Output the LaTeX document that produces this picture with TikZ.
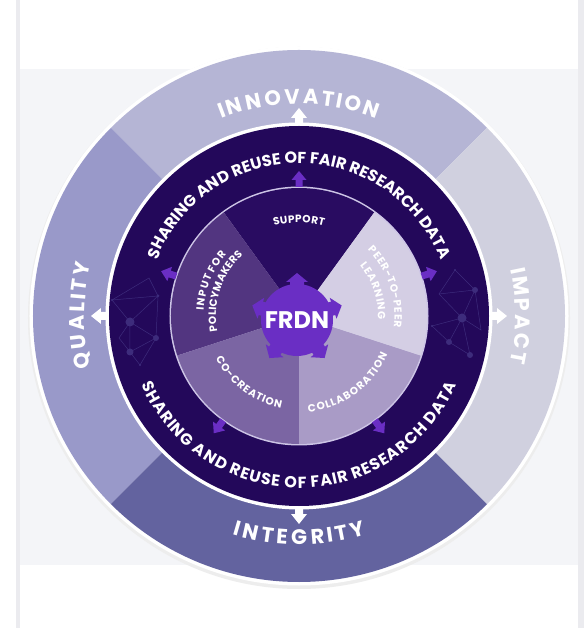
\documentclass[tikz,border=0pt]{standalone}
\usepackage{fontspec}
\setmainfont{Poppins}
\usetikzlibrary{decorations.text}

\definecolor{bandgray}{HTML}{F4F5F8}
\definecolor{stripgray}{HTML}{EBEBEF}
\definecolor{qTop}{HTML}{B5B5D5}
\definecolor{qRight}{HTML}{D0D0DF}
\definecolor{qBottom}{HTML}{63639F}
\definecolor{qLeft}{HTML}{9999C9}
\definecolor{ringdark}{HTML}{23085A}
\definecolor{sSupport}{HTML}{290C61}
\definecolor{sInput}{HTML}{523580}
\definecolor{sCocreate}{HTML}{7B65A3}
\definecolor{sCollab}{HTML}{A99BC6}
\definecolor{sPeer}{HTML}{D4CEE4}
\definecolor{pieedge}{HTML}{CDC5E6}
\definecolor{violet}{HTML}{6A2EC4}
\definecolor{netline}{HTML}{3D2C7C}

% text set clockwise along an arc (letter tops outward), baseline on the arc
% #1 radius, #2 centre angle, #3 half span, #4 font size, #5 text
\newcommand\cwarctext[5]{%
  \path[decorate, decoration={text effects along path, text={#5},
      text effects/.cd, text along path, fit text to path,
      characters={text=white, inner sep=0pt,
        font=\bfseries\fontsize{#4}{#4}\selectfont}}]
    ({#2+#3}:#1) arc[start angle={#2+#3}, end angle={#2-#3}, radius=#1];}
% text set counter-clockwise along an arc (letter tops inward)
\newcommand\ccwarctext[5]{%
  \path[decorate, decoration={text effects along path, text={#5},
      text effects/.cd, text along path, fit text to path,
      characters={text=white, inner sep=0pt,
        font=\bfseries\fontsize{#4}{#4}\selectfont}}]
    ({#2-#3}:#1) arc[start angle={#2-#3}, end angle={#2+#3}, radius=#1];}
% block arrow pointing outward: angle, r tail, r shoulder, r tip, half shaft, half head, colour
\newcommand\blockarrow[7]{%
  \fill[#7, rotate=#1] (#2,-#5) -- (#3,-#5) -- (#3,-#6) -- (#4,0)
    -- (#3,#6) -- (#3,#5) -- (#2,#5) -- cycle;}

\tikzset{
  netdot/.style={fill=netline},
  netedge/.style={draw=netline, line width=0.5pt},
}

\begin{document}
\begin{tikzpicture}[x=1pt,y=1pt]
\useasboundingbox (-299,-312) rectangle (285,316);

% page background
\fill[white] (-299,-312) rectangle (285,316);
\fill[bandgray] (-279,247) rectangle (279,-249);
\fill[stripgray] (-283,-312) rectangle (-279,316);
\fill[stripgray] (279,-312) rectangle (285,316);

% outer ring with its four values
\fill[black!7] (0,-2) circle (271);
\fill[white] (0,0) circle (269.5);
\fill[qTop] (0,0) -- (45:266) arc[start angle=45, end angle=135, radius=266] -- cycle;
\fill[qLeft] (0,0) -- (135:266) arc[start angle=135, end angle=225, radius=266] -- cycle;
\fill[qBottom] (0,0) -- (225:266) arc[start angle=225, end angle=315, radius=266] -- cycle;
\fill[qRight] (0,0) -- (315:266) arc[start angle=315, end angle=405, radius=266] -- cycle;

% dark ring
\fill[white] (0,0) circle (193.5);
\fill[ringdark] (0,0) circle (190);

% faint network pattern in the dark ring
\begin{scope}
  \coordinate (l1) at (-169,-6);  \coordinate (l2) at (-143,-22);
  \coordinate (l3) at (-169,-36); \coordinate (l4) at (-141,20);
  \coordinate (l5) at (-187,16);  \coordinate (l6) at (-159,-49);
  \coordinate (l7) at (-180,-22); \coordinate (l8) at (-150,38);
  \draw[netedge] (l1) -- (l2) -- (l3) -- (l1) -- (l4) -- (l5) -- (l1) -- (l7) -- (l3) -- (l6) -- (l2) -- (l4) -- (l8) -- (l5);
  \fill[netdot] (l1) circle (4.5);
  \fill[netdot] (l2) circle (3);
  \fill[netdot] (l3) circle (3.5);
  \fill[netdot] (l4) circle (1.5);
  \fill[netdot] (l5) circle (1.2);
  \fill[netdot] (l6) circle (1.2);
  \coordinate (r1) at (163,-2);  \coordinate (r2) at (176,26);
  \coordinate (r3) at (150,-26); \coordinate (r4) at (171,-39);
  \coordinate (r5) at (133,-10); \coordinate (r6) at (156,46);
  \coordinate (r7) at (182,-14); \coordinate (r8) at (140,22);
  \draw[netedge] (r1) -- (r2) -- (r6) -- (r8) -- (r1) -- (r3) -- (r4) -- (r1) -- (r7) -- (r2);
  \draw[netedge] (r5) -- (r1); \draw[netedge] (r5) -- (r3); \draw[netedge] (r8) -- (r2);
  \fill[netdot] (r1) circle (4.5);
  \fill[netdot] (r2) circle (3);
  \fill[netdot] (r3) circle (3);
  \fill[netdot] (r4) circle (3);
  \fill[netdot] (r5) circle (1.2);
  \fill[netdot] (r6) circle (1.2);
\end{scope}

% inner pie of five activities
\fill[pieedge] (0,0) circle (129.5);
\fill[sSupport] (0,0) -- (54:128) arc[start angle=54, end angle=126, radius=128] -- cycle;
\fill[sInput] (0,0) -- (126:128) arc[start angle=126, end angle=198, radius=128] -- cycle;
\fill[sCocreate] (0,0) -- (198:128) arc[start angle=198, end angle=270, radius=128] -- cycle;
\fill[sCollab] (0,0) -- (270:128) arc[start angle=270, end angle=342, radius=128] -- cycle;
\fill[sPeer] (0,0) -- (342:128) arc[start angle=342, end angle=414, radius=128] -- cycle;

% white arrows towards the four values
\foreach \a in {90,0,-90,180} {\blockarrow{\a}{191}{198}{208}{4}{8}{white}}
% violet arrows from each activity into the dark ring
\foreach \a in {90,18,-54,-126,162} {\blockarrow{\a}{129}{136}{145}{3.5}{7.5}{violet}}

% central hub
\fill[violet] (-2,-4) circle (36);
\begin{scope}[shift={(-2,-4)}]
  \foreach \a in {90,18,-54,-126,162} {\blockarrow{\a}{30}{38}{47}{7}{11}{violet}}
\end{scope}
\node[text=white, font=\bfseries\fontsize{24}{24}\selectfont] (frdn) at (-2,-4) {FRDN};

% value labels in the outer ring
\cwarctext{212}{90}{21.5}{21}{INNOVATION}
\cwarctext{216.5}{0}{12.5}{21}{IMPACT}
\cwarctext{214.5}{180}{14}{21}{QUALITY}
\ccwarctext{228.5}{270}{17}{21}{INTEGRITY}

% labels in the dark ring
\cwarctext{152.5}{90}{68.5}{16}{SHARING AND REUSE OF FAIR RESEARCH DATA}
\ccwarctext{172}{270}{66.5}{16}{SHARING AND REUSE OF FAIR RESEARCH DATA}

% activity labels
\cwarctext{93.5}{90}{15.5}{10.5}{SUPPORT}
\cwarctext{95.5}{158}{18.5}{10.5}{INPUT FOR}
\cwarctext{83}{161.5}{29}{10.5}{POLICYMAKERS}
\cwarctext{95.5}{18.5}{25.5}{10.5}{PEER-TO-PEER}
\cwarctext{79}{18.4}{21.2}{10.5}{LEARNING}
\ccwarctext{96.5}{-54}{30.5}{10.5}{COLLABORATION}
\ccwarctext{93.5}{-127}{26}{10.5}{CO-CREATION}
\end{tikzpicture}
\end{document}
